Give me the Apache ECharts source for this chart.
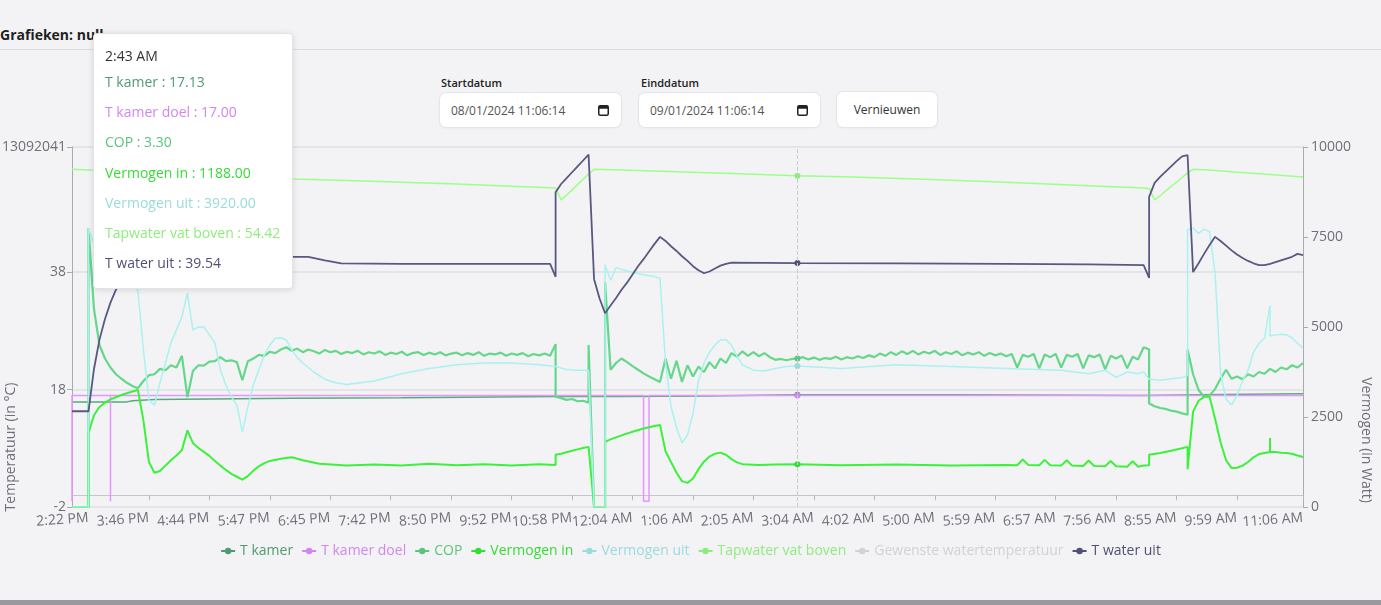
<!DOCTYPE html>
<html><head><meta charset="utf-8">
<script src="https://cdn.jsdelivr.net/npm/echarts@6/dist/echarts.min.js"></script>
<style>
html,body{margin:0;padding:0;background:#f3f3f5;width:1381px;height:605px;overflow:hidden;font-family:'Open Sans','Noto Sans',sans-serif;}
.title{position:absolute;left:0;top:25px;font-weight:700;font-size:14px;color:#1f1f1f;white-space:nowrap;}
.rule{position:absolute;left:0;top:49px;width:1381px;height:1px;background:#dcdde0;}
.lbl{position:absolute;top:75px;font-size:11px;font-weight:600;color:#222;}
.box{position:absolute;top:93px;height:34px;background:#fff;border-radius:6px;box-shadow:0 0 0 1px #e4e5e8,0 1px 3px rgba(0,0,0,0.06);font-size:12px;color:#555;box-sizing:border-box;padding-left:11px;display:flex;align-items:center;}
.box svg{position:absolute;right:12px;top:11px;}
.btn{position:absolute;left:837px;top:92px;width:100px;height:35px;background:#fff;border-radius:6px;box-shadow:0 0 0 1px #e4e5e8,0 1px 3px rgba(0,0,0,0.06);font-size:12px;color:#333;display:flex;align-items:center;justify-content:center;}
.bottom{position:absolute;left:0;top:600px;width:1381px;height:5px;background:#9a9a9e;}
#chart{position:absolute;left:0;top:0;width:1381px;height:605px;}
</style>
</head><body>
<div class="title">Grafieken: null</div>
<div class="rule"></div>
<div class="lbl" style="left:441px">Startdatum</div>
<div class="box" style="left:440px;width:181px">08/01/2024 11:06:14<svg width="11" height="12" viewBox="0 0 11 12"><rect x="0.75" y="1.75" width="9.5" height="9.5" rx="1.5" fill="none" stroke="#222" stroke-width="1.5"/><rect x="0.75" y="1.75" width="9.5" height="3" fill="#222"/></svg></div>
<div class="lbl" style="left:641px">Einddatum</div>
<div class="box" style="left:639px;width:181px">09/01/2024 11:06:14<svg width="11" height="12" viewBox="0 0 11 12"><rect x="0.75" y="1.75" width="9.5" height="9.5" rx="1.5" fill="none" stroke="#222" stroke-width="1.5"/><rect x="0.75" y="1.75" width="9.5" height="3" fill="#222"/></svg></div>
<div class="btn">Vernieuwen</div>
<div class="bottom"></div>
<div id="chart"></div>
<script>
// ---- x axis ----
const xTickLabels = ['2:22 PM','3:46 PM','4:44 PM','5:47 PM','6:45 PM','7:42 PM','8:50 PM','9:52 PM','10:58 PM','12:04 AM','1:06 AM','2:05 AM','3:04 AM','4:02 AM','5:00 AM','5:59 AM','6:57 AM','7:56 AM','8:55 AM','9:59 AM','11:06 AM'];
const pointCount = 225;
const tickStart = 3;
const tickEvery = 11;
const hoverIndex = 132;
const hoverLabel = '2:43 AM';

// ---- y axis ticks ----
const leftTickValues = [-2, 18, 38, 59.3];
const leftTickLabels = ['-2', '18', '38', '13092041'];
const rightTickValues = [0, 2500, 5000, 7500, 10000];

// ---- series data: [sample index, value] ----
const tKamer = [[0,15.9],[10,15.9],[11,16.1],[15,16.3],[25,16.4],[40,16.5],[60,16.6],[88,16.8],[100,16.8],[115,16.9],[132,17.13],[160,17.1],[195,17.0],[205,17.1],[224,17.3]];

const tKamerDoel = [[0,-1],[0,17],[7,17],[7,-1],[7,17],[104,17],[104,-1],[105,-1],[105,17],[132,17],[224,17]];

const cop = [[0,0],[3,0],[3,6.2],[4,4.4],[5,3.6],[6,3.3],[7,3.1],[8,2.95],[9,2.85],[10,2.76],[11,2.69],[12,2.64],
[13,2.80],[14,2.93],[15,2.95],[16,3.07],[17,3.04],[18,3.15],[19,3.1],[20,3.36],[21,2.44],[22,3.02],[23,3.15],[24,3.14],[25,3.23],[26,3.24],[27,3.33],[28,3.24],[29,3.26],[30,3.22],[31,2.82],[32,3.24],[33,3.3],[34,3.38],[35,3.36],[36,3.45],[37,3.42],[38,3.5],[39,3.55],[40,3.47],
[41,3.52],[42,3.44],[43,3.5],[44,3.46],[45,3.41],[46,3.49],[47,3.44],[48,3.47],[49,3.4],[50,3.45],[51,3.42],[52,3.47],[53,3.39],[54,3.44],[55,3.41],[56,3.46],[57,3.38],[58,3.43],[59,3.4],[60,3.45],
[61,3.37],[62,3.42],[63,3.44],[64,3.38],[65,3.43],[66,3.39],[67,3.44],[68,3.37],[69,3.41],[70,3.43],[71,3.37],[72,3.42],[73,3.38],[74,3.44],[75,3.36],[76,3.41],[77,3.39],[78,3.43],[79,3.36],[80,3.41],
[81,3.38],[82,3.42],[83,3.35],[84,3.4],[85,3.37],[86,3.41],[87,3.36],[88,3.62],[88,2.45],[89,2.42],[90,2.38],[91,2.4],[92,2.35],[93,2.36],[94,2.32],[94,3.6],[95,0],[97,0],[97,5.0],
[98,3.05],[99,3.2],[100,3.3],[101,3.22],[102,3.13],[103,3.05],[104,2.97],[105,2.9],[106,2.84],[107,2.78],
[108,3.3],[109,2.85],[110,3.25],[111,2.78],[112,3.15],[113,2.9],[114,3.12],[115,3.0],[116,3.22],[117,3.08],[118,3.3],[119,3.2],[120,3.42],[121,3.34],[122,3.46],[123,3.36],[124,3.44],[125,3.35],[126,3.42],[127,3.33],[128,3.27],[129,3.29],[130,3.26],[131,3.29],[132,3.30],
[133,3.33],[134,3.28],[135,3.32],[136,3.27],[137,3.31],[138,3.29],[139,3.34],[140,3.28],[141,3.33],[142,3.3],[143,3.35],[144,3.31],[145,3.37],[146,3.33],[147,3.41],[148,3.36],[149,3.44],[150,3.38],
[151,3.46],[152,3.4],[153,3.47],[154,3.39],[155,3.45],[156,3.41],[157,3.47],[158,3.38],[159,3.44],[160,3.4],[161,3.46],[162,3.37],[163,3.43],[164,3.39],[165,3.44],[166,3.36],[167,3.42],[168,3.37],[169,3.41],[170,3.35],
[171,3.4],[172,3.1],[173,3.38],[174,3.34],[175,3.4],[176,3.08],[177,3.39],[178,3.33],[179,3.4],[180,3.1],[181,3.38],[182,3.34],[183,3.4],[184,3.08],[185,3.37],[186,3.33],[187,3.39],[188,3.06],[189,3.36],[190,3.3],
[191,3.37],[192,3.08],[193,3.34],[194,3.28],[195,3.55],[196,3.5],[196,2.3],[197,2.24],[198,2.2],[199,2.18],[200,2.14],[201,2.12],[202,2.08],[203,2.05],[203,3.5],[204,2.95],[205,2.6],[206,2.45],[207,2.48],[208,2.62],[209,2.85],[210,3.05],
[211,2.85],[212,2.9],[213,2.84],[214,2.95],[215,2.9],[216,3.0],[217,2.96],[218,3.07],[219,3.0],[220,3.1],[221,3.06],[222,3.15],[223,3.1],[224,3.2]];

const vermogenIn = [[0,0],[3,0],[3,2050],[4,2550],[5,2780],[6,2900],[7,2990],[8,3050],[9,3110],[10,3160],[11,3210],[12,3250],[13,2400],[14,1250],[15,950],[16,1000],[17,1150],[18,1300],[19,1430],[20,1580],[21,2130],[22,1780],[23,1640],[24,1530],[25,1420],[26,1280],[27,1150],[28,1030],[29,920],[30,840],[31,760],[32,860],[33,1010],[34,1130],[35,1220],[36,1280],[38,1340],[40,1380],[42,1300],[45,1200],[50,1150],[55,1180],[60,1150],[65,1200],[70,1160],[75,1190],[80,1150],[85,1190],[88,1170],[88,1450],[89,1480],[90,1520],[91,1560],[92,1600],[93,1640],[94,1670],[95,0],[97,0],[97,1810],[98,1880],[100,1990],[102,2090],[104,2180],[106,2250],[107,2280],[108,1550],[109,1250],[110,950],[111,720],[112,670],[113,790],[114,1050],[115,1260],[116,1400],[117,1480],[118,1510],[119,1450],[120,1330],[121,1240],[122,1190],[125,1170],[128,1180],[132,1188],[140,1160],[150,1180],[160,1150],[170,1170],[172,1160],[173,1320],[174,1170],[176,1160],[177,1310],[178,1160],[180,1150],[181,1300],[182,1150],[184,1140],[185,1290],[186,1140],[188,1130],[189,1280],[190,1130],[192,1120],[193,1270],[194,1120],[195,1150],[196,1160],[196,1450],[198,1500],[200,1560],[202,1630],[203,1670],[203,1050],[204,2650],[205,2950],[206,3060],[207,3060],[208,2450],[209,1800],[210,1300],[211,1080],[212,1090],[213,1150],[214,1250],[215,1380],[216,1470],[217,1500],[218,1530],[218,1920],[218,1530],[219,1530],[220,1510],[221,1500],[222,1480],[223,1430],[224,1390]];

const vermogenUit = [[0,0],[3,0],[3,7750],[4,7300],[6,6900],[8,6600],[10,6450],[11,6350],[12,6000],[13,4360],[14,2970],[15,2830],[16,3440],[17,4000],[18,4560],[19,4920],[20,5280],[21,5940],[22,4920],[23,5000],[24,5000],[25,4780],[26,4560],[27,3810],[28,3390],[29,3060],[30,2830],[31,2080],[32,2780],[33,3390],[34,3810],[35,4220],[36,4500],[37,4690],[38,4700],[39,4640],[40,4360],[41,4150],[42,4000],[44,3750],[46,3550],[48,3450],[50,3400],[55,3500],[60,3700],[65,3850],[70,3950],[75,4000],[80,4000],[85,3950],[88,3900],[90,3820],[92,3800],[94,3800],[95,0],[97,0],[97,6720],[98,6300],[99,6650],[100,6600],[102,6520],[104,6450],[106,6400],[107,6350],[108,4000],[109,2800],[110,2200],[111,1780],[112,2000],[113,2600],[114,3500],[115,4000],[116,4300],[117,4500],[118,4640],[119,4650],[120,4500],[121,4200],[122,3950],[124,3800],[126,3780],[128,3850],[130,3900],[132,3920],[140,3850],[150,3950],[160,3900],[170,3850],[180,3800],[185,3700],[188,3800],[190,3600],[192,3750],[194,3700],[195,3750],[196,3550],[198,3520],[200,3560],[202,3600],[203,3650],[203,7700],[204,7750],[205,7600],[206,7720],[207,7650],[208,6500],[209,3720],[210,3000],[211,2830],[212,3100],[213,3500],[214,3800],[215,4300],[216,4550],[217,4700],[218,5600],[218,4750],[219,4780],[220,4800],[221,4780],[222,4700],[223,4550],[224,4420]];

const tapwaterVatBoven = [[0,55.5],[3,55.4],[10,55.0],[20,54.6],[30,54.2],[40,53.85],[50,53.6],[60,53.3],[70,53.0],[80,52.6],[88,52.3],[89,50.3],[90,51.1],[91,52.0],[92,52.9],[93,53.8],[94,54.7],[95,55.5],[100,55.4],[110,55.1],[120,54.8],[132,54.42],[142,54.2],[155,53.8],[170,53.3],[185,52.7],[195,52.3],[196,52.2],[197,50.3],[198,51.0],[199,51.8],[200,52.6],[201,53.3],[202,54.1],[203,54.9],[204,55.5],[207,55.4],[212,55.0],[218,54.6],[224,54.2]];

const gewensteWatertemperatuur = [];

const tWaterUit = [[0,14.3],[3,14.3],[4,21.5],[5,26.5],[6,30.0],[7,32.8],[8,35.0],[10,37.8],[13,39.6],[17,40.5],[25,40.8],[35,40.7],[40,40.6],[43,40.6],[46,40.0],[49,39.5],[60,39.4],[75,39.4],[87,39.4],[88,37.2],[88,51.6],[89,53.0],[90,54.0],[91,55.0],[92,56.0],[93,57.0],[94,58.0],[95,36.8],[96,33.5],[97,31.0],[98,32.3],[99,33.6],[100,35.0],[101,36.2],[102,37.6],[103,39.0],[104,40.2],[105,41.5],[106,42.8],[107,44.0],[108,43.3],[109,42.4],[110,41.6],[111,40.7],[112,39.9],[113,39.0],[114,38.3],[115,37.8],[116,38.1],[117,38.6],[118,39.1],[119,39.4],[120,39.6],[132,39.54],[150,39.5],[170,39.4],[185,39.3],[195,39.2],[196,37.0],[196,50.8],[197,53.2],[198,54.2],[199,55.1],[200,56.0],[201,56.9],[202,57.7],[203,57.9],[204,38.0],[205,39.5],[206,41.1],[207,42.6],[208,44.0],[209,43.3],[210,42.5],[211,41.7],[212,41.0],[213,40.4],[214,39.9],[215,39.5],[216,39.2],[217,39.2],[218,39.4],[220,40.0],[222,40.6],[223,41.1],[224,40.9]];

// ---- build category list from tick labels (last label sits at the axis end) ----
const tickIndices = xTickLabels.map((t, j) => j === xTickLabels.length - 1 ? pointCount - 1 : tickStart + j * tickEvery);
const categories = [];
for (let i = 0; i < pointCount; i++) categories.push('');
xTickLabels.forEach((t, j) => { categories[tickIndices[j]] = t; });
categories[hoverIndex] = hoverLabel;
const showTick = (idx) => tickIndices.indexOf(idx) >= 0;

const FONT = "'Open Sans','Noto Sans',sans-serif";
const AX = '#6e7079';

const seriesDefs = [
  {name:'T kamer', data:tKamer, color:'#4d9c70', y:0, w:1.5},
  {name:'T kamer doel', data:tKamerDoel, color:'#d386ef', y:0, w:1.5},
  {name:'COP', data:cop, color:'#5cc47f', y:2, w:2.2},
  {name:'Vermogen in', data:vermogenIn, color:'#36dc36', y:1, w:2},
  {name:'Vermogen uit', data:vermogenUit, color:'#9adcdb', y:1, w:1.5},
  {name:'Tapwater vat boven', data:tapwaterVatBoven, color:'#8eec7c', y:0, w:1.5},
  {name:'Gewenste watertemperatuur', data:gewensteWatertemperatuur, color:'#b0b0b0', y:0, w:1.5},
  {name:'T water uit', data:tWaterUit, color:'#505075', y:0, w:1.8}
];

const chart = echarts.init(document.getElementById('chart'), null, {renderer:'canvas'});
const option = {
  animation: false,
  backgroundColor: 'transparent',
  textStyle: {fontFamily: FONT},
  grid: {left: 72, right: 78, top: 147, bottom: 98, containLabel: false, outerBoundsMode: 'none'},
  legend: {
    top: 539, left: 'center', itemWidth: 14, itemHeight: 8, itemGap: 8,
    textStyle: {fontSize: 14, fontFamily: FONT},
    selected: {'Gewenste watertemperatuur': false},
    data: seriesDefs.map(s => ({name: s.name, textStyle: {color: s.color}}))
  },
  tooltip: {
    trigger: 'axis', triggerOn: 'none', alwaysShowContent: true, transitionDuration: 0,
    position: [93, 33],
    backgroundColor: '#fff', borderColor: '#e3e3e6', borderWidth: 1, padding: [10, 11],
    textStyle: {fontSize: 14, fontFamily: FONT, color: '#333'},
    extraCssText: 'box-shadow:0 1px 6px rgba(0,0,0,0.12);border-radius:4px;width:176px;',
    axisPointer: {type: 'line', lineStyle: {color: '#c9cbd0', width: 1}},
    formatter: function (params) {
      let html = '<div style="line-height:23px;color:#333">' + params[0].axisValue + '</div>';
      params.forEach(p => {
        html += '<div style="line-height:30.2px;color:' + p.color + '">' + p.seriesName + ' : ' + Number(p.value[1]).toFixed(2) + '</div>';
      });
      return html;
    }
  },
  xAxis: {
    type: 'category', data: categories, boundaryGap: false,
    axisLine: {lineStyle: {color: '#c4c6cb'}},
    axisTick: {interval: showTick, alignWithLabel: true, lineStyle: {color: '#b4b6bb'}},
    axisLabel: {interval: showTick, rotate: 4, fontSize: 14, color: AX, margin: 11, fontFamily: FONT,
      showMinLabel: true, showMaxLabel: true, hideOverlap: false}
  },
  yAxis: [
    {type: 'value', position: 'left', min: -2, max: 59.3,
     name: 'Temperatuur (in °C)', nameLocation: 'middle', nameGap: 54, nameRotate: 90, nameMoveOverlap: false,
     nameTextStyle: {color: AX, fontSize: 14, padding: [0, 240, 0, 0], fontFamily: FONT},
     axisLine: {show: true, lineStyle: {color: '#a9abb1'}},
     axisTick: {show: true, customValues: leftTickValues, lineStyle: {color: '#a9abb1'}},
     axisLabel: {customValues: leftTickValues, fontSize: 14, color: AX, fontFamily: FONT, margin: 6,
       formatter: v => { const k = leftTickValues.indexOf(v); return k >= 0 ? leftTickLabels[k] : ''; }},
     splitLine: {show: true, lineStyle: {color: '#dfe0e3', width: 1.5}}},
    {type: 'value', position: 'right', min: 0, max: 10000,
     name: 'Vermogen (in Watt)', nameLocation: 'middle', nameGap: 56, nameRotate: -90, nameMoveOverlap: false,
     nameTextStyle: {color: AX, fontSize: 14, padding: [0, 0, 0, 226], fontFamily: FONT},
     axisLine: {show: true, lineStyle: {color: '#a9abb1'}},
     axisTick: {show: true, customValues: rightTickValues, lineStyle: {color: '#a9abb1'}},
     axisLabel: {customValues: rightTickValues, fontSize: 14, color: AX, fontFamily: FONT, formatter: v => String(v)},
     splitLine: {show: false}},
    {type: 'value', position: 'right', min: 0, max: 8, show: false}
  ],
  series: seriesDefs.map(s => ({
    name: s.name, type: 'line', yAxisIndex: s.y, data: s.data,
    showSymbol: false, symbol: 'circle', symbolSize: 6,
    color: s.color, lineStyle: {width: s.w, color: s.color},
    emphasis: {disabled: false, scale: false, lineStyle: {width: s.w}},
    z: 2
  }))
};
chart.setOption(option);
const px = chart.convertToPixel({xAxisIndex: 0}, hoverIndex);
chart.dispatchAction({type: 'showTip', x: px, y: 300});
setTimeout(() => chart.dispatchAction({type: 'showTip', x: px, y: 300}), 50);
</script>
</body></html>
